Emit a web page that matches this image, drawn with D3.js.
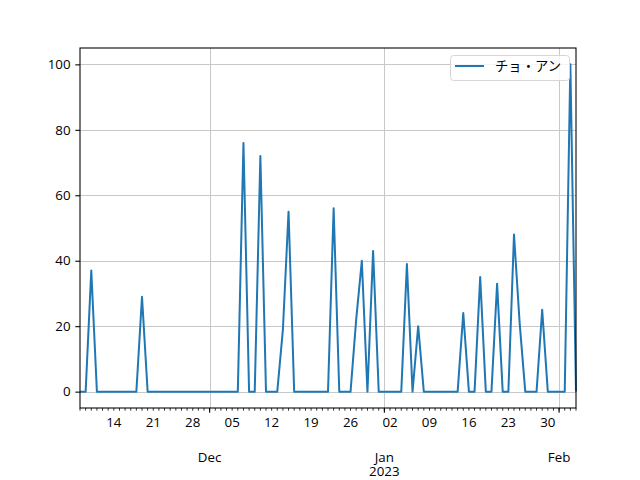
<!DOCTYPE html>
<html>
<head>
<meta charset="utf-8">
<script src="https://cdn.jsdelivr.net/npm/d3@7"></script>
<style>
  body { margin: 0; background: #fff; }
  svg text { font-family: "Open Sans", "Noto Sans CJK JP", sans-serif; font-size: 13.33px; fill: #000; }
</style>
</head>
<body>
<div id="chart"></div>
<script>
const startDate = new Date(2022, 10, 8);
const endDate = new Date(2023, 1, 4);
const seriesName = 'チョ・アン';
const counts = [
  0, 0, 37, 0, 0, 0, 0, 0, 0, 0,
  0, 29, 0, 0, 0, 0, 0, 0, 0, 0,
  0, 0, 0, 0, 0, 0, 0, 0, 0, 76,
  0, 0, 72, 0, 0, 0, 19, 55, 0, 0,
  0, 0, 0, 0, 0, 56, 0, 0, 0, 22,
  40, 0, 43, 0, 0, 0, 0, 0, 39, 0,
  20, 0, 0, 0, 0, 0, 0, 0, 24, 0,
  0, 35, 0, 0, 33, 0, 0, 48, 21, 0,
  0, 0, 25, 0, 0, 0, 0, 100, 0,
];
const yTicks = [0, 20, 40, 60, 80, 100];

const width = 640;
const height = 480;
const margin = {left: 80, right: 64, top: 48, bottom: 72};

const dates = d3.timeDay.range(startDate, d3.timeDay.offset(endDate, 1));
const data = dates.map((d, i) => ({date: d, value: counts[i]}));

const svg = d3.select('#chart').append('svg')
  .attr('width', width)
  .attr('height', height);

const x = d3.scaleTime()
  .domain([startDate, endDate])
  .range([margin.left, width - margin.right]);
const y = d3.scaleLinear()
  .domain([-5, 105])
  .range([height - margin.bottom, margin.top]);

const plotBottom = height - margin.bottom;
const monthTicks = d3.timeMonth.range(startDate, endDate);
const weekTicks = d3.timeMonday.range(startDate, endDate);
const dayTicks = d3.timeDay.range(startDate, d3.timeDay.offset(endDate, 1));

// grid
svg.append('g').selectAll('line')
  .data(yTicks)
  .enter().append('line')
  .attr('x1', margin.left).attr('x2', width - margin.right)
  .attr('y1', (d) => Math.round(y(d)) + 0.5).attr('y2', (d) => Math.round(y(d)) + 0.5)
  .style('stroke', '#c8c8c8');

svg.append('g').selectAll('line')
  .data(monthTicks)
  .enter().append('line')
  .attr('x1', (d) => Math.round(x(d)) + 0.5).attr('x2', (d) => Math.round(x(d)) + 0.5)
  .attr('y1', margin.top).attr('y2', plotBottom)
  .style('stroke', '#c8c8c8');

// series
const line = d3.line()
  .x((d) => x(d.date))
  .y((d) => y(d.value));

svg.append('path')
  .datum(data)
  .attr('d', line)
  .style('fill', 'none')
  .style('stroke', '#1f77b4')
  .style('stroke-width', 2)
  .style('stroke-linejoin', 'round');

// frame
svg.append('rect')
  .attr('x', margin.left).attr('y', margin.top)
  .attr('width', width - margin.left - margin.right)
  .attr('height', height - margin.top - margin.bottom)
  .style('fill', 'none')
  .style('stroke', '#000')
  .style('stroke-width', 1.07);

// y axis
const yAxis = d3.axisLeft(y).tickValues(yTicks).tickSize(4.7).tickPadding(4.7);
svg.append('g')
  .attr('transform', `translate(${margin.left},0)`)
  .call(yAxis)
  .call((g) => g.select('.domain').remove())
  .call((g) => g.selectAll('.tick line').style('stroke', '#000').style('stroke-width', 1.07))
  .call((g) => g.selectAll('.tick text').attr('font-size', null).attr('font-family', null));

// x axis: daily minor ticks, month major ticks
svg.append('g').selectAll('line')
  .data(dayTicks)
  .enter().append('line')
  .attr('x1', (d) => x(d)).attr('x2', (d) => x(d))
  .attr('y1', plotBottom).attr('y2', plotBottom + 2.7)
  .style('stroke', '#000')
  .style('stroke-width', 0.8);

svg.append('g').selectAll('line')
  .data(monthTicks)
  .enter().append('line')
  .attr('x1', (d) => x(d)).attr('x2', (d) => x(d))
  .attr('y1', plotBottom).attr('y2', plotBottom + 4.7)
  .style('stroke', '#000')
  .style('stroke-width', 1.07);

svg.append('g').selectAll('text')
  .data(weekTicks)
  .enter().append('text')
  .attr('x', (d) => x(d))
  .attr('y', plotBottom + 18.5)
  .style('text-anchor', 'middle')
  .text(d3.timeFormat('%d'));

svg.append('g').selectAll('text')
  .data(monthTicks)
  .enter().append('text')
  .attr('x', (d) => x(d))
  .attr('y', plotBottom + 53.5)
  .style('text-anchor', 'middle')
  .text(d3.timeFormat('%b'));

svg.append('g').selectAll('text')
  .data(monthTicks.filter((d) => d.getMonth() === 0))
  .enter().append('text')
  .attr('x', (d) => x(d))
  .attr('y', plotBottom + 68)
  .style('text-anchor', 'middle')
  .text(d3.timeFormat('%Y'));

// legend
const legend = svg.append('g');
legend.append('rect')
  .attr('x', 450.5).attr('y', 55.5)
  .attr('width', 119).attr('height', 25)
  .attr('rx', 3)
  .style('fill', 'rgba(255,255,255,0.8)')
  .style('stroke', '#d6d6d6');
legend.append('line')
  .attr('x1', 455).attr('x2', 484)
  .attr('y1', 66).attr('y2', 66)
  .style('stroke', '#1f77b4')
  .style('stroke-width', 2);
legend.append('text')
  .attr('x', 495).attr('y', 71)
  .text(seriesName);
</script>
</body>
</html>
